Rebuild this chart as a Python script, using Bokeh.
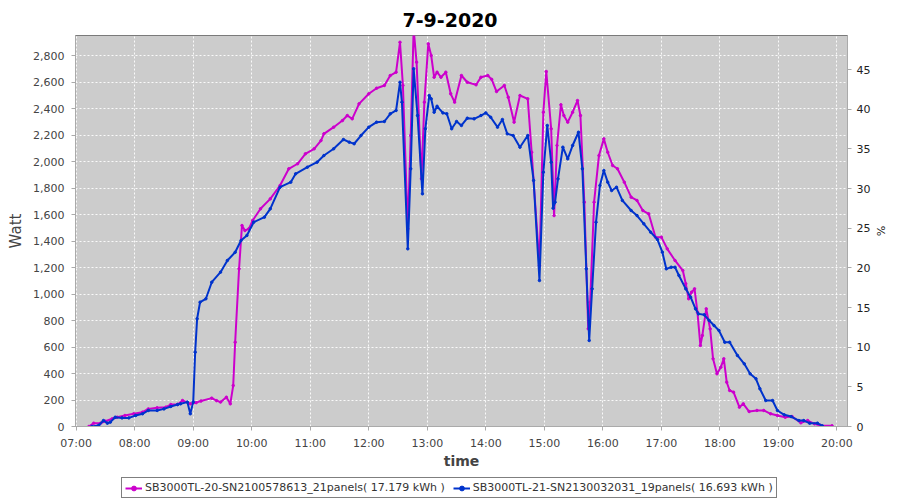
import pandas as pd
from bokeh.plotting import figure
from bokeh.layouts import column
from bokeh.models import (Range1d, LinearAxis, Legend, LegendItem, FixedTicker,
                          DatetimeTickFormatter, NumeralTickFormatter, ColumnDataSource)
from bokeh.embed import file_html
from bokeh.resources import INLINE

DAY = "2020-09-07"
title_text = "7-9-2020"
name_1 = "SB3000TL-20-SN2100578613_21panels( 17.179 kWh )"
name_2 = "SB3000TL-21-SN2130032031_19panels( 16.693 kWh )"

times_1 = ["07:13", "07:18", "07:25", "07:30", "07:37", "07:42", "07:50", "07:59", "08:08", "08:14",
           "08:23", "08:32", "08:37", "08:44", "08:49", "08:57", "09:03", "09:08", "09:19", "09:24",
           "09:28", "09:34", "09:38", "09:41", "09:43", "09:47", "09:50", "09:53", "09:57", "10:01",
           "10:09", "10:19", "10:29", "10:38", "10:47", "10:55", "11:04", "11:11", "11:14", "11:24",
           "11:33", "11:38", "11:43", "11:50", "12:00", "12:08", "12:16", "12:22", "12:28", "12:32",
           "12:35", "12:40", "12:43", "12:46", "12:49", "12:54", "12:57", "13:01", "13:04", "13:07",
           "13:10", "13:14", "13:19", "13:24", "13:28", "13:35", "13:41", "13:50", "13:55", "14:02",
           "14:06", "14:11", "14:19", "14:23", "14:29", "14:35", "14:43", "14:47", "14:55", "14:59",
           "15:02", "15:07", "15:10", "15:13", "15:17", "15:20", "15:24", "15:29", "15:34", "15:37",
           "15:41", "15:45", "15:47", "15:51", "15:56", "16:01", "16:05", "16:10", "16:15", "16:22",
           "16:29", "16:35", "16:41", "16:47", "16:54", "17:00", "17:06", "17:14", "17:22", "17:25",
           "17:28", "17:31", "17:34", "17:37", "17:40", "17:42", "17:46", "17:50", "17:53", "17:57",
           "18:01", "18:04", "18:07", "18:10", "18:14", "18:20", "18:24", "18:30", "18:38", "18:45",
           "18:52", "18:59", "19:07", "19:14", "19:23", "19:30", "19:37", "19:43", "19:55"]
watts_1 = [0, 25, 25, 40, 58, 70, 83, 96, 108, 133,
           141, 146, 166, 166, 196, 171, 180, 192, 214, 195,
           184, 221, 171, 309, 636, 1190, 1517, 1479, 1492, 1555,
           1643, 1718, 1819, 1945, 1983, 2058, 2096, 2158, 2209, 2259,
           2309, 2347, 2322, 2435, 2511, 2553, 2574, 2649, 2674, 2900,
           2574, 1492, 2196, 3000, 2750, 1869, 2448, 2888, 2800, 2636,
           2674, 2636, 2674, 2511, 2448, 2649, 2598, 2579, 2636, 2649,
           2620, 2528, 2574, 2485, 2297, 2498, 2473, 2070, 1215, 2372,
           2679, 2247, 1592, 2121, 2428, 2347, 2297, 2372, 2460, 2347,
           1693, 737, 938, 1693, 2045, 2171, 2070, 1970, 1945, 1844,
           1731, 1706, 1630, 1605, 1429, 1429, 1341, 1253, 1177, 1077,
           964, 1014, 1039, 862, 611, 687, 888, 737, 511, 398,
           448, 511, 334, 272, 259, 146, 171, 113, 121, 121,
           96, 83, 70, 75, 28, 45, 20, 8, 5]

times_2 = ["07:16", "07:23", "07:28", "07:32", "07:35", "07:40", "07:47", "07:54", "08:01", "08:08",
           "08:14", "08:23", "08:30", "08:37", "08:44", "08:47", "08:54", "08:57", "09:00", "09:02",
           "09:04", "09:07", "09:13", "09:19", "09:28", "09:35", "09:43", "09:49", "09:55", "10:02",
           "10:13", "10:19", "10:29", "10:40", "10:45", "10:57", "11:07", "11:14", "11:24", "11:34",
           "11:40", "11:45", "11:52", "12:00", "12:08", "12:16", "12:22", "12:28", "12:32", "12:34",
           "12:40", "12:43", "12:46", "12:50", "12:55", "12:58", "13:02", "13:04", "13:07", "13:10",
           "13:16", "13:20", "13:25", "13:30", "13:35", "13:41", "13:48", "13:55", "14:00", "14:05",
           "14:12", "14:17", "14:22", "14:28", "14:35", "14:43", "14:49", "14:55", "14:59", "15:03",
           "15:07", "15:09", "15:11", "15:14", "15:19", "15:24", "15:29", "15:35", "15:39", "15:43",
           "15:46", "15:49", "15:53", "15:57", "16:01", "16:05", "16:09", "16:14", "16:20", "16:29",
           "16:35", "16:42", "16:49", "16:56", "17:01", "17:05", "17:10", "17:14", "17:18", "17:25",
           "17:30", "17:35", "17:38", "17:44", "17:49", "17:54", "17:59", "18:05", "18:10", "18:18",
           "18:25", "18:31", "18:37", "18:41", "18:47", "18:54", "18:59", "19:06", "19:13", "19:21",
           "19:26", "19:32", "19:40", "19:45"]
watts_2 = [0, 8, 45, 25, 33, 70, 65, 65, 83, 96,
           121, 121, 133, 151, 166, 171, 184, 96, 184, 561,
           813, 938, 964, 1089, 1165, 1253, 1315, 1404, 1442, 1542,
           1580, 1643, 1806, 1844, 1907, 1957, 1995, 2045, 2096, 2166,
           2146, 2134, 2196, 2259, 2297, 2302, 2360, 2385, 2598, 2448,
           1341, 1945, 2700, 2347, 1756, 2247, 2498, 2473, 2372, 2417,
           2367, 2360, 2247, 2302, 2272, 2327, 2322, 2347, 2367, 2334,
           2259, 2317, 2209, 2196, 2108, 2196, 1857, 1102, 1919, 2272,
           1995, 1648, 1693, 1869, 2108, 2020, 2121, 2221, 1945, 1190,
           649, 1039, 1542, 1819, 1932, 1844, 1781, 1806, 1706, 1630,
           1592, 1530, 1467, 1411, 1316, 1190, 1202, 1202, 1140, 1039,
           976, 888, 850, 843, 800, 762, 725, 636, 636, 536,
           473, 398, 360, 285, 196, 196, 121, 88, 75, 45,
           45, 25, 25, 5]

hour_ticks = ["07:00", "08:00", "09:00", "10:00", "11:00", "12:00", "13:00",
              "14:00", "15:00", "16:00", "17:00", "18:00", "19:00", "20:00"]
watt_ticks = [0, 200, 400, 600, 800, 1000, 1200, 1400, 1600, 1800, 2000, 2200, 2400, 2600, 2800]
pct_ticks = [0, 5, 10, 15, 20, 25, 30, 35, 40, 45]


def ts(t):
    return pd.Timestamp(f"{DAY} {t}")


def ms(t):
    return ts(t).value // 10**6


src1 = ColumnDataSource(dict(t=[ts(t) for t in times_1], w=watts_1))
src2 = ColumnDataSource(dict(t=[ts(t) for t in times_2], w=watts_2))

p = figure(frame_width=772, frame_height=391, output_backend="svg", toolbar_location=None,
           x_axis_type="datetime",
           x_range=Range1d(ts("06:59:18"), ts("20:10:50")),
           y_range=Range1d(0, 2951),
           min_border_left=75, min_border_right=40, min_border_top=35, min_border_bottom=50)

p.title.text = title_text
p.title.align = "left"
p.title.offset = 327
p.title.text_font = "DejaVu Sans"
p.title.text_font_size = "19px"
p.title.text_font_style = "bold"
p.title.text_color = "black"
p.title.vertical_align = "bottom"
p.title.standoff = 18

p.background_fill_color = "#cccccc"
p.border_fill_color = "white"
p.outline_line_color = "#7a7a7a"
p.outline_line_width = 1

p.extra_y_ranges = {"pct": Range1d(0, 49.29)}
ax_r = LinearAxis(y_range_name="pct", axis_label="%")
p.add_layout(ax_r, "right")

for ax in p.axis:
    ax.axis_line_color = "#aaaaaa"
    ax.major_tick_line_color = "#aaaaaa"
    ax.minor_tick_line_color = None
    ax.major_tick_in = 0
    ax.major_tick_out = 4
    ax.major_label_text_font = "DejaVu Sans"
    ax.major_label_text_font_size = "11px"
    ax.major_label_text_color = "#444444"
    ax.axis_label_text_font = "DejaVu Sans"
    ax.axis_label_text_color = "#444444"

p.xaxis.ticker = FixedTicker(ticks=[ms(h) for h in hour_ticks])
p.xaxis.formatter = DatetimeTickFormatter(hours="%H:%M", minutes="%H:%M", days="%H:%M")
p.xaxis.axis_label = "time"
p.xaxis.axis_label_text_font_style = "bold"
p.xaxis.axis_label_text_font_size = "14px"
p.xaxis.axis_label_standoff = 0
p.xaxis.major_label_standoff = 6

p.yaxis[0].ticker = FixedTicker(ticks=watt_ticks)
p.yaxis[0].formatter = NumeralTickFormatter(format="0,0")
p.yaxis[0].axis_label = "Watt"
p.yaxis[0].axis_label_text_font_style = "normal"
p.yaxis[0].axis_label_text_font_size = "15px"
p.yaxis[0].major_label_standoff = 7
p.yaxis[0].axis_label_standoff = 5

ax_r.ticker = FixedTicker(ticks=pct_ticks)
ax_r.major_label_text_color = "#222222"
ax_r.major_label_standoff = 5
ax_r.axis_label_standoff = 1
ax_r.axis_label_text_font_size = "11px"
ax_r.axis_label_text_font_style = "normal"
ax_r.axis_label_text_color = "#222222"

p.xgrid.ticker = p.xaxis.ticker
p.ygrid.ticker = p.yaxis[0].ticker
for g in (p.xgrid, p.ygrid):
    g.grid_line_color = "white"
    g.grid_line_dash = "2 2"
    g.grid_line_width = 1
    g.grid_line_alpha = 0.9

c1 = "#cc00cc"
c2 = "#0033cc"
l1 = p.line("t", "w", source=src1, line_color=c1, line_width=2)
m1 = p.scatter("t", "w", source=src1, size=2.5, color=c1)
l2 = p.line("t", "w", source=src2, line_color=c2, line_width=2)
m2 = p.scatter("t", "w", source=src2, size=2.5, color=c2)

# strip below the chart that carries the legend (its own ranges keep the series out of view)
lg = figure(width=884, height=24, output_backend="svg", toolbar_location=None,
            x_range=Range1d(0, 1), y_range=Range1d(0, 1),
            x_axis_location=None, y_axis_location=None, min_border=0)
lg.grid.visible = False
lg.outline_line_color = None
k1 = lg.line("t", "w", source=src1, line_color=c1, line_width=2)
k1b = lg.scatter("t", "w", source=src1, size=2.5, color=c1)
k2 = lg.line("t", "w", source=src2, line_color=c2, line_width=2)
k2b = lg.scatter("t", "w", source=src2, size=2.5, color=c2)

legend = Legend(items=[LegendItem(label=name_1, renderers=[k1, k1b]),
                       LegendItem(label=name_2, renderers=[k2, k2b])],
                orientation="horizontal", location=(46, 2),
                border_line_color="black", border_line_width=1,
                background_fill_color="white", background_fill_alpha=1,
                label_text_font="DejaVu Sans", label_text_font_size="11px",
                label_text_color="#333333", glyph_width=17, glyph_height=12,
                label_standoff=3, spacing=8, padding=3, margin=0,
                label_height=12)
lg.add_layout(legend, "center")

open("out.html", "w").write(file_html(column(p, lg), INLINE))
